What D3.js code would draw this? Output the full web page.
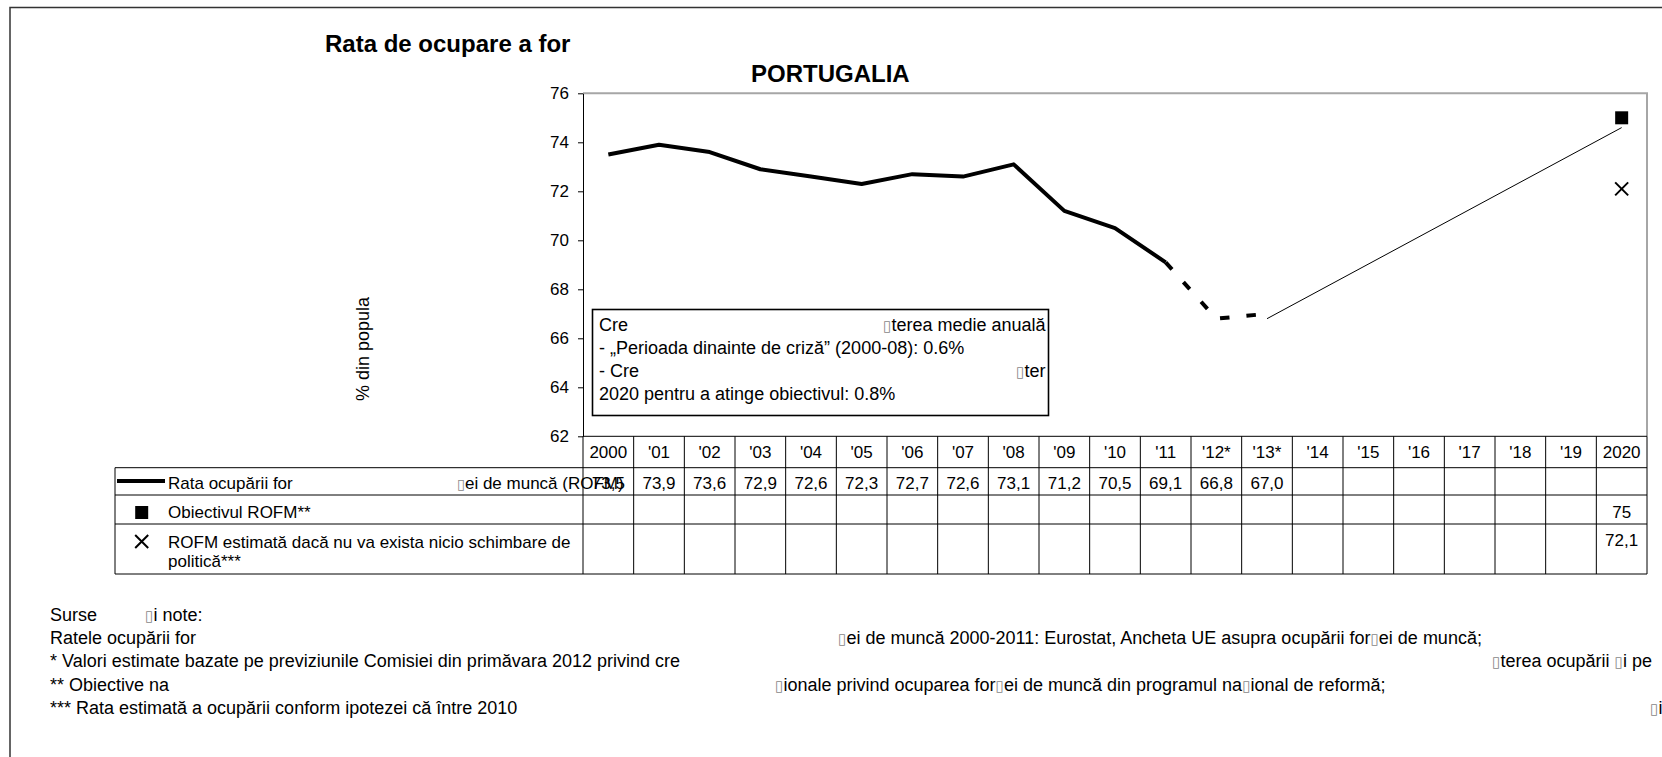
<!DOCTYPE html>
<html>
<head>
<meta charset="utf-8">
<script src="https://cdn.jsdelivr.net/npm/d3@7"></script>
<style>
  body { margin: 0; background: #fff; }
  svg { display: block; font-family: "Liberation Sans", Arial, sans-serif; }
</style>
</head>
<body>
<div id="chart"></div>
<script>
// categories (table header) and series
var categories = ["2000", "'01", "'02", "'03", "'04", "'05", "'06", "'07", "'08", "'09", "'10",
                  "'11", "'12*", "'13*", "'14", "'15", "'16", "'17", "'18", "'19", "2020"];
var rateValues = [73.5, 73.9, 73.6, 72.9, 72.6, 72.3, 72.7, 72.6, 73.1, 71.2, 70.5, 69.1, 66.8, 67.0];
var lastObserved = "'11";
var targetCats = ["2020"];
var targetValues = [75];
var noChangeCats = ["2020"];
var noChangeValues = [72.1];
var trajectoryCats = ["'13*", "2020"];
var trajectoryValues = [66.8, 74.6];
var yTicks = [62, 64, 66, 68, 70, 72, 74, 76];

var BOX = "\u25AF"; // glyph the source could not render

function init() {
    var w = 1662, h = 757;
    var left = 583, right = 1647, top = 93.3, bottom = 436.3;
    var tableLeft = 115;
    var rowLines = [467.7, 495, 524, 574];
    var font = 17, noteFont = 18;

    var svg = d3.select("#chart").append("svg")
        .attr("width", w).attr("height", h);

    // outer frame (only left and top visible)
    svg.append("path")
        .attr("d", "M10," + h + "V7.5H" + w)
        .attr("fill", "none").attr("stroke", "#333").attr("stroke-width", 1.5);

    var xScale = d3.scaleBand().domain(categories).range([left, right]);
    var bw = xScale.bandwidth();
    var yScale = d3.scaleLinear().domain([62, 76]).range([bottom, top]);
    var cx = function(c) { return xScale(c) + bw / 2; };

    // text with missing-glyph boxes
    function frag(g, x, y, str, size, weight) {
        var t = g.append("text").attr("x", x).attr("y", y)
            .attr("font-size", size).attr("font-weight", weight || "normal").attr("fill", "#000");
        str.split(BOX).forEach(function(part, i) {
            if (i > 0) t.append("tspan").text(BOX).attr("fill", "#888").attr("font-size", size * 0.85)
                .attr("font-weight", "normal").attr("font-family", "DejaVu Sans");
            if (part) t.append("tspan").text(part);
        });
        return t;
    }

    // titles
    frag(svg, 325, 52, "Rata de ocupare a for", 24, "bold");
    frag(svg, 751, 82, "PORTUGALIA", 24, "bold");

    // y label
    svg.append("text")
        .attr("transform", "translate(369,401) rotate(-90)")
        .attr("font-size", noteFont)
        .text("% din popula");

    // plot frame top / right
    svg.append("path")
        .attr("d", "M" + left + "," + top + "H" + right + "V" + bottom)
        .attr("fill", "none").attr("stroke", "#a6a6a6").attr("stroke-width", 2);

    // y axis
    var yAxis = d3.axisLeft(yScale).tickValues(yTicks).tickSize(5).tickSizeOuter(0).tickPadding(9);
    var ya = svg.append("g").attr("transform", "translate(" + left + ",0)").call(yAxis);
    ya.selectAll("text").attr("font-size", font).attr("font-family", "Liberation Sans, Arial, sans-serif").attr("fill", "#000");
    ya.selectAll("line,path").attr("stroke", "#000");

    // table grid
    var grid = svg.append("g").attr("stroke", "#000").attr("stroke-width", 1);
    grid.append("line").attr("x1", left).attr("x2", right).attr("y1", bottom).attr("y2", bottom);
    rowLines.forEach(function(y) {
        grid.append("line").attr("x1", tableLeft).attr("x2", right).attr("y1", y).attr("y2", y);
    });
    grid.append("line").attr("x1", tableLeft).attr("x2", tableLeft).attr("y1", rowLines[0]).attr("y2", rowLines[3]);
    categories.forEach(function(c) {
        grid.append("line").attr("x1", xScale(c)).attr("x2", xScale(c)).attr("y1", bottom).attr("y2", rowLines[3]);
    });
    grid.append("line").attr("x1", right).attr("x2", right).attr("y1", bottom).attr("y2", rowLines[3]);

    // header labels
    svg.append("g").selectAll("text").data(categories).enter().append("text")
        .attr("x", cx).attr("y", 458)
        .attr("text-anchor", "middle").attr("font-size", font)
        .text(function(d) { return d; });

    // annotation box
    svg.append("rect")
        .attr("x", 592.5).attr("y", 309.5).attr("width", 456).attr("height", 106)
        .attr("fill", "#fff").attr("stroke", "#000").attr("stroke-width", 1.6);
    var ann = svg.append("g");
    frag(ann, 599, 331, "Cre", noteFont);
    frag(ann, 883, 331, BOX + "terea medie anual\u0103", noteFont);
    frag(ann, 599, 354, "- \u201EPerioada dinainte de criz\u0103\u201D (2000-08): 0.6%", noteFont);
    frag(ann, 599, 377, "- Cre", noteFont);
    frag(ann, 1016, 377, BOX + "ter", noteFont);
    frag(ann, 599, 400, "2020 pentru a atinge obiectivul: 0.8%", noteFont);

    // series data
    var rate = rateValues.map(function(v, i) { return { cat: categories[i], v: v }; });
    var split = categories.indexOf(lastObserved);
    var line = d3.line()
        .x(function(d) { return cx(d.cat); })
        .y(function(d) { return yScale(d.v); });

    svg.append("path").datum(rate.slice(0, split + 1))
        .attr("d", line).attr("fill", "none").attr("stroke", "#000")
        .attr("stroke-width", 4).attr("stroke-linejoin", "round");
    svg.append("path").datum(rate.slice(split))
        .attr("d", line).attr("fill", "none").attr("stroke", "#000")
        .attr("stroke-width", 4).attr("stroke-dasharray", "9.5,17");

    var traj = trajectoryValues.map(function(v, i) { return { cat: trajectoryCats[i], v: v }; });
    svg.append("path").datum(traj)
        .attr("d", line).attr("fill", "none").attr("stroke", "#000").attr("stroke-width", 1);

    // target marker
    var targets = targetValues.map(function(v, i) { return { cat: targetCats[i], v: v }; });
    svg.selectAll(".target").data(targets).enter().append("path")
        .attr("class", "target")
        .attr("transform", function(d) { return "translate(" + cx(d.cat) + "," + yScale(d.v) + ")"; })
        .attr("d", d3.symbol(d3.symbolSquare).size(169)).attr("fill", "#000");

    // no-change marker
    var xmark = function(s) { return "M" + (-s) + "," + (-s) + "L" + s + "," + s + "M" + s + "," + (-s) + "L" + (-s) + "," + s; };
    var noChange = noChangeValues.map(function(v, i) { return { cat: noChangeCats[i], v: v }; });
    svg.selectAll(".nochange").data(noChange).enter().append("path")
        .attr("class", "nochange")
        .attr("transform", function(d) { return "translate(" + cx(d.cat) + "," + yScale(d.v) + ")"; })
        .attr("d", xmark(6.5)).attr("stroke", "#000").attr("stroke-width", 2).attr("fill", "none");

    // table rows: legend keys
    svg.append("line").attr("x1", 117).attr("x2", 165).attr("y1", 481).attr("y2", 481)
        .attr("stroke", "#000").attr("stroke-width", 4);
    svg.append("path").attr("transform", "translate(141.7,512.5)")
        .attr("d", d3.symbol(d3.symbolSquare).size(169)).attr("fill", "#000");
    svg.append("path").attr("transform", "translate(141.7,541.5)")
        .attr("d", xmark(6.5)).attr("stroke", "#000").attr("stroke-width", 2);

    var leg = svg.append("g");
    frag(leg, 168, 489, "Rata ocup\u0103rii for", font);
    frag(leg, 457, 489, BOX + "ei de munc\u0103 (ROFM)", font);
    frag(leg, 168, 518, "Obiectivul ROFM**", font);
    frag(leg, 168, 548, "ROFM estimat\u0103 dac\u0103 nu va exista nicio schimbare de", font);
    frag(leg, 168, 567, "politic\u0103***", font);

    // table values
    var comma = function(f) { return function(v) { return f(v).replace(".", ","); }; };
    var f1 = comma(d3.format(".1f")), f0 = comma(d3.format("~f"));
    svg.append("g").selectAll("text").data(rate).enter().append("text")
        .attr("x", function(d) { return cx(d.cat); }).attr("y", 489)
        .attr("text-anchor", "middle").attr("font-size", font)
        .text(function(d) { return f1(d.v); });
    svg.append("g").selectAll("text").data(targets).enter().append("text")
        .attr("x", function(d) { return cx(d.cat); }).attr("y", 518)
        .attr("text-anchor", "middle").attr("font-size", font)
        .text(function(d) { return f0(d.v); });
    svg.append("g").selectAll("text").data(noChange).enter().append("text")
        .attr("x", function(d) { return cx(d.cat); }).attr("y", 546)
        .attr("text-anchor", "middle").attr("font-size", font)
        .text(function(d) { return f0(d.v); });

    // sources and notes
    var notes = svg.append("g");
    frag(notes, 50, 621, "Surse", noteFont);
    frag(notes, 145, 621, BOX + "i note:", noteFont);
    frag(notes, 50, 644, "Ratele ocup\u0103rii for", noteFont);
    frag(notes, 838, 644, BOX + "ei de munc\u0103 2000-2011: Eurostat, Ancheta UE asupra ocup\u0103rii for" + BOX + "ei de munc\u0103;", noteFont);
    frag(notes, 50, 667, "* Valori estimate bazate pe previziunile Comisiei din prim\u0103vara 2012 privind cre", noteFont);
    frag(notes, 1492, 667, BOX + "terea ocup\u0103rii " + BOX + "i pe", noteFont);
    frag(notes, 50, 691, "** Obiective na", noteFont);
    frag(notes, 775, 691, BOX + "ionale privind ocuparea for" + BOX + "ei de munc\u0103 din programul na" + BOX + "ional de reform\u0103;", noteFont);
    frag(notes, 50, 714, "*** Rata estimat\u0103 a ocup\u0103rii conform ipotezei c\u0103 \u00EEntre 2010", noteFont);
    frag(notes, 1650, 714, BOX + "i 2", noteFont);
}
window.onload = init;
</script>
</body>
</html>
